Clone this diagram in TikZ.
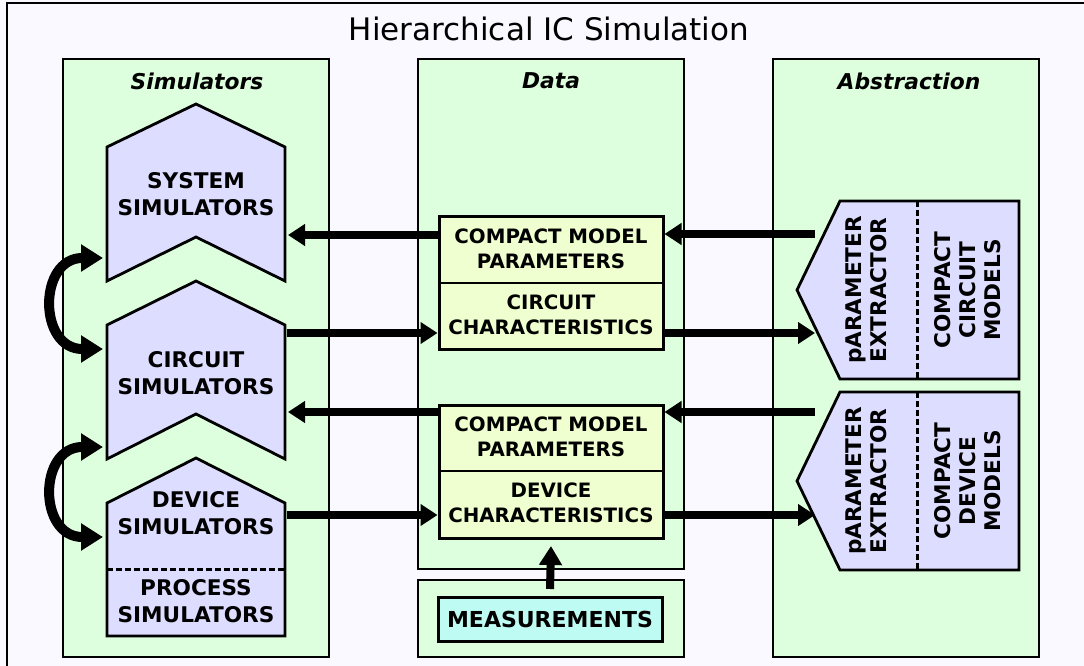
\documentclass[tikz,border=0pt]{standalone}
\usepackage{fontspec}
\setmainfont{DejaVu Sans}
\usetikzlibrary{arrows.meta}
\definecolor{pagebg}{HTML}{F9F9FF}
\definecolor{panelgreen}{HTML}{DEFFDE}
\definecolor{simblue}{HTML}{DDDDFF}
\definecolor{datayellow}{HTML}{EFFFCF}
\definecolor{meascyan}{HTML}{BDFBF3}

\begin{document}
\begin{tikzpicture}[x=1pt,y=-1pt,
  panel/.style={draw=black, line width=2pt, fill=panelgreen},
  simshape/.style={draw=black, line width=2.8pt, fill=simblue, line join=miter},
  databox/.style={draw=black, line width=3pt, fill=datayellow, inner sep=0pt},
  boxtext/.style={font=\bfseries\fontsize{21.6}{27}\selectfont, align=center, inner sep=0pt},
  datatext/.style={font=\bfseries\fontsize{19.8}{25}\selectfont, align=center, inner sep=0pt},
  modeltext/.style={font=\bfseries\fontsize{21.6}{25}\selectfont, align=center, inner sep=0pt, rotate=90},
  headtext/.style={font=\bfseries\itshape\fontsize{21.8}{25}\selectfont, inner sep=0pt},
  flowarrow/.style={line width=8.5pt, -{Triangle[length=17pt,width=21pt]}},
  swaparrow/.style={line width=10pt, {Triangle[length=22pt,width=26pt]}-{Triangle[length=22pt,width=26pt]}},
  sepline/.style={line width=3pt, dash pattern=on 6pt off 3pt}
]
\useasboundingbox (0,0) rectangle (1084,666);
\clip (0,0) rectangle (1084,666);
\fill[pagebg] (0,0) rectangle (1084,666);
\draw[line width=2pt, fill=pagebg] (7,3) rectangle (1100,680);

% title
\node[font=\fontsize{31}{36}\selectfont, inner sep=0pt] (title) at (549,29) {Hierarchical IC Simulation};

% column panels
\draw[panel] (63,59) rectangle (329,657);
\draw[panel] (418,59) rectangle (684,569);
\draw[panel] (418,580) rectangle (684,657);
\draw[panel] (773,59) rectangle (1039,657);
\node[headtext] (hsim) at (197,81) {Simulators};
\node[headtext] (hdata) at (551,81) {Data};
\node[headtext] (habs) at (909,81) {Abstraction};

% simulator chevrons
\draw[simshape] (107,147) -- (196,104) -- (285,147) -- (285,281) -- (196,237) -- (107,281) -- cycle;
\draw[simshape] (107,325) -- (196,281) -- (285,325) -- (285,459) -- (196,414) -- (107,459) -- cycle;
\draw[simshape] (107,503) -- (196,458) -- (285,503) -- (285,636) -- (107,636) -- cycle;
\draw[sepline] (107,569) -- (285,569);
\node[boxtext] (sys) at (196,194) {SYSTEM\\SIMULATORS};
\node[boxtext] (cir) at (196,373) {CIRCUIT\\SIMULATORS};
\node[boxtext] (dev) at (196,513) {DEVICE\\SIMULATORS};
\node[boxtext] (proc) at (196,601) {PROCESS\\SIMULATORS};

% data boxes
\node[databox, minimum width=224pt, minimum height=133pt] (d1) at (551,282.5) {};
\draw[line width=1.5pt] (d1.west |- 0,283) -- (d1.east |- 0,283);
\node[datatext] (d1p) at (551,249) {COMPACT MODEL\\PARAMETERS};
\node[datatext] (d1c) at (551,315) {CIRCUIT\\CHARACTERISTICS};
\node[databox, minimum width=224pt, minimum height=133pt] (d2) at (551,471.5) {};
\draw[line width=1.5pt] (d2.west |- 0,471) -- (d2.east |- 0,471);
\node[datatext] (d2p) at (551,437) {COMPACT MODEL\\PARAMETERS};
\node[datatext] (d2c) at (551,503) {DEVICE\\CHARACTERISTICS};
\node[draw=black, line width=3pt, fill=meascyan, minimum width=224pt, minimum height=44pt,
      inner sep=0pt, font=\bfseries\fontsize{22}{25}\selectfont] (meas) at (550,619) {MEASUREMENTS};

% abstraction pentagons
\draw[simshape] (840,201) -- (1019,201) -- (1019,379) -- (840,379) -- (797,290) -- cycle;
\draw[sepline] (917,201) -- (917,379);
\node[modeltext] (pe1) at (866,290) {pARAMETER\\EXTRACTOR};
\node[modeltext] (cm1) at (968,290) {COMPACT\\CIRCUIT\\MODELS};
\draw[simshape] (840,392) -- (1019,392) -- (1019,570) -- (840,570) -- (797,481) -- cycle;
\draw[sepline] (917,392) -- (917,570);
\node[modeltext] (pe2) at (866,481) {pARAMETER\\EXTRACTOR};
\node[modeltext] (cm2) at (968,481) {COMPACT\\DEVICE\\MODELS};

% connector end points
\coordinate (sysR) at (288,235);
\coordinate (cirRa) at (287,333);
\coordinate (cirRb) at (288,412);
\coordinate (devR) at (287,515);
\coordinate (pe1a) at (815,234);
\coordinate (pe1b) at (815,333);
\coordinate (pe2a) at (815,412);
\coordinate (pe2b) at (815,515);
\coordinate (sysL) at (103,258);
\coordinate (cirLa) at (103,349);
\coordinate (cirLb) at (103,447);
\coordinate (devL) at (103,537);

% data flow
\draw[flowarrow] (d1.west |- sysR) -- (sysR);
\draw[flowarrow] (pe1a) -- (d1.east |- pe1a);
\draw[flowarrow] (cirRa) -- (d1.west |- cirRa);
\draw[flowarrow] (d1.east |- pe1b) -- (pe1b);
\draw[flowarrow] (d2.west |- cirRb) -- (cirRb);
\draw[flowarrow] (pe2a) -- (d2.east |- pe2a);
\draw[flowarrow] (devR) -- (d2.west |- devR);
\draw[flowarrow] (d2.east |- pe2b) -- (pe2b);
\draw[flowarrow, line width=8pt, -{Triangle[length=19pt,width=22pt]}] (meas.north |- 0,589) -- (551,546);

% coupling between simulator levels
\draw[swaparrow] (sysL) .. controls (38,258) and (38,349) .. (cirLa);
\draw[swaparrow] (cirLb) .. controls (38,447) and (38,537) .. (devL);
\end{tikzpicture}
\end{document}
